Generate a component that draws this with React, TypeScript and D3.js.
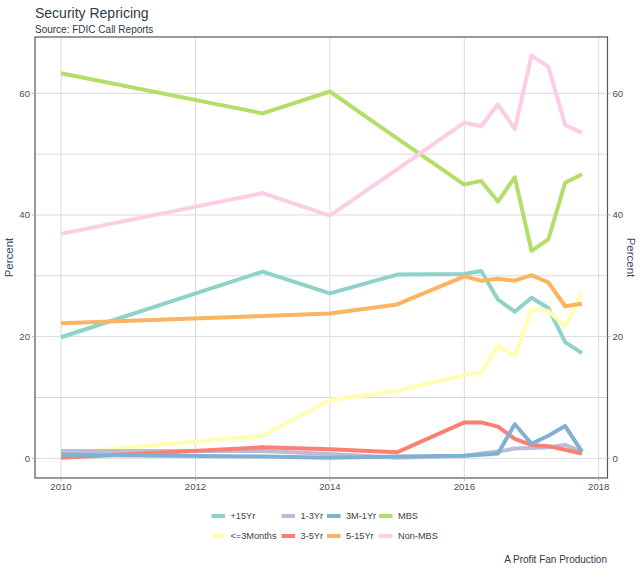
import React from "react";
import * as d3 from "d3";

const dates = [2010, 2013, 2014, 2015, 2016, 2016.25, 2016.5, 2016.75, 2017, 2017.25, 2017.5, 2017.75];

const seriesNames = ["+15Yr", "<=3Months", "1-3Yr", "3-5Yr", "3M-1Yr", "5-15Yr", "MBS", "Non-MBS"];
const seriesColors = ["#8DD3C7", "#FFFFB3", "#BEBADA", "#FB8072", "#80B1D3", "#FDB462", "#B3DE69", "#FCCDE5"];

const plus15Yr = [19.9, 30.7, 27.1, 30.2, 30.3, 30.8, 26.1, 24.1, 26.4, 24.7, 19.1, 17.3];
const upTo3Months = [0.8, 3.7, 9.6, 11.1, 13.7, 14.1, 18.5, 16.8, 24.5, 24.2, 21.7, 27.2];
const yr1to3 = [1.2, 1.2, 0.7, 0.1, 0.4, 0.8, 1.1, 1.6, 1.7, 1.8, 2.2, 1.1];
const yr3to5 = [0.1, 1.8, 1.5, 1.0, 5.9, 5.9, 5.2, 3.2, 2.2, 2.0, 1.4, 0.8];
const m3to1Yr = [0.6, 0.3, 0.1, 0.3, 0.4, 0.6, 0.8, 5.6, 2.4, 3.7, 5.3, 1.1];
const yr5to15 = [22.2, 23.4, 23.8, 25.3, 29.9, 29.2, 29.5, 29.2, 30.1, 28.9, 25.0, 25.4];
const mbs = [63.3, 56.7, 60.3, 52.6, 45.0, 45.6, 42.2, 46.2, 34.1, 36.0, 45.3, 46.7];
const nonMbs = [36.9, 43.6, 39.9, 47.5, 55.2, 54.6, 58.2, 54.1, 66.2, 64.4, 54.8, 53.5];

const seriesValues = [plus15Yr, upTo3Months, yr1to3, yr3to5, m3to1Yr, yr5to15, mbs, nonMbs];

const yTicks = [0, 20, 40, 60];
const yGrid = [0, 10, 20, 30, 40, 50, 60];
const xTicks = [2010, 2012, 2014, 2016, 2018];

const titleText = "Security Repricing";
const subtitleText = "Source: FDIC Call Reports";
const captionText = "A Profit Fan Production";
const yLabel = "Percent";

const W = 640;
const H = 569;
const left = 35;
const right = 607.5;
const top = 37;
const bottom = 478;
const font = "'Liberation Sans', Arial, sans-serif";

export default function App() {
  const x = d3.scaleLinear().domain([2009.6125, 2018.1375]).range([left, right + 0.5]);
  const y = d3.scaleLinear().domain([-3.24, 69.26]).range([bottom, top]);
  const line = d3
    .line<number>()
    .x((_, i) => x(dates[i]))
    .y((d) => y(d));

  const legendCols = [211.5, 281.5, 327, 379];
  const legendRows = [516, 536];

  return (
    <svg width={W} height={H} style={{ position: "absolute", left: 0, top: 0 }} fontFamily={font}>
      <rect width={W} height={H} fill="#ffffff" />
      <text x={35} y={17.5} fontSize={14} fill="#2e3a48">{titleText}</text>
      <text x={35} y={32.5} fontSize={10} fill="#2e3a48">{subtitleText}</text>

      {yGrid.map((v) => (
        <line key={"gy" + v} x1={left} x2={right} y1={y(v)} y2={y(v)} stroke="#dadada" strokeWidth={1} />
      ))}
      {xTicks.map((v) => (
        <line key={"gx" + v} x1={x(v)} x2={x(v)} y1={top} y2={bottom} stroke="#dadada" strokeWidth={1} />
      ))}

      {seriesValues.map((vals, i) => (
        <path
          key={seriesNames[i]}
          d={line(vals) || ""}
          fill="none"
          stroke={seriesColors[i]}
          strokeWidth={4}
          strokeLinejoin="round"
        />
      ))}

      <rect x={left} y={top} width={right - left} height={bottom - top} fill="none" stroke="#4d5664" strokeWidth={1.2} />

      {yTicks.map((v) => (
        <g key={"yt" + v}>
          <line x1={left - 3} x2={left} y1={y(v)} y2={y(v)} stroke="#b5b5b5" />
          <line x1={right} x2={right + 3} y1={y(v)} y2={y(v)} stroke="#b5b5b5" />
          <text x={left - 5} y={y(v)} dy="0.35em" textAnchor="end" fontSize={9.6} fill="#4a4f57">{v}</text>
          <text x={right + 5} y={y(v)} dy="0.35em" textAnchor="start" fontSize={9.6} fill="#4a4f57">{v}</text>
        </g>
      ))}
      {xTicks.map((v) => (
        <g key={"xt" + v}>
          <line x1={x(v)} x2={x(v)} y1={bottom} y2={bottom + 3} stroke="#b5b5b5" />
          <text x={x(v)} y={bottom + 12} textAnchor="middle" fontSize={9.6} fill="#4a4f57">{v}</text>
        </g>
      ))}

      <text transform={`translate(13,${(top + bottom) / 2}) rotate(-90)`} textAnchor="middle" fontSize={11.5} fill="#3a4a5c">{yLabel}</text>
      <text transform={`translate(627,${(top + bottom) / 2}) rotate(90)`} textAnchor="middle" fontSize={11.5} fill="#3a4a5c">{yLabel}</text>

      {seriesNames.map((name, i) => {
        const col = Math.floor(i / 2);
        const row = i % 2;
        const kx = legendCols[col];
        const ky = legendRows[row];
        return (
          <g key={"lg" + name}>
            <line x1={kx} x2={kx + 13.5} y1={ky} y2={ky} stroke={seriesColors[i]} strokeWidth={4} />
            <text x={kx + 19} y={ky} dy="0.35em" fontSize={9.2} fill="#3a3f47">{name}</text>
          </g>
        );
      })}

      <text x={607} y={563} textAnchor="end" fontSize={10} fill="#2e3a48">{captionText}</text>
    </svg>
  );
}
